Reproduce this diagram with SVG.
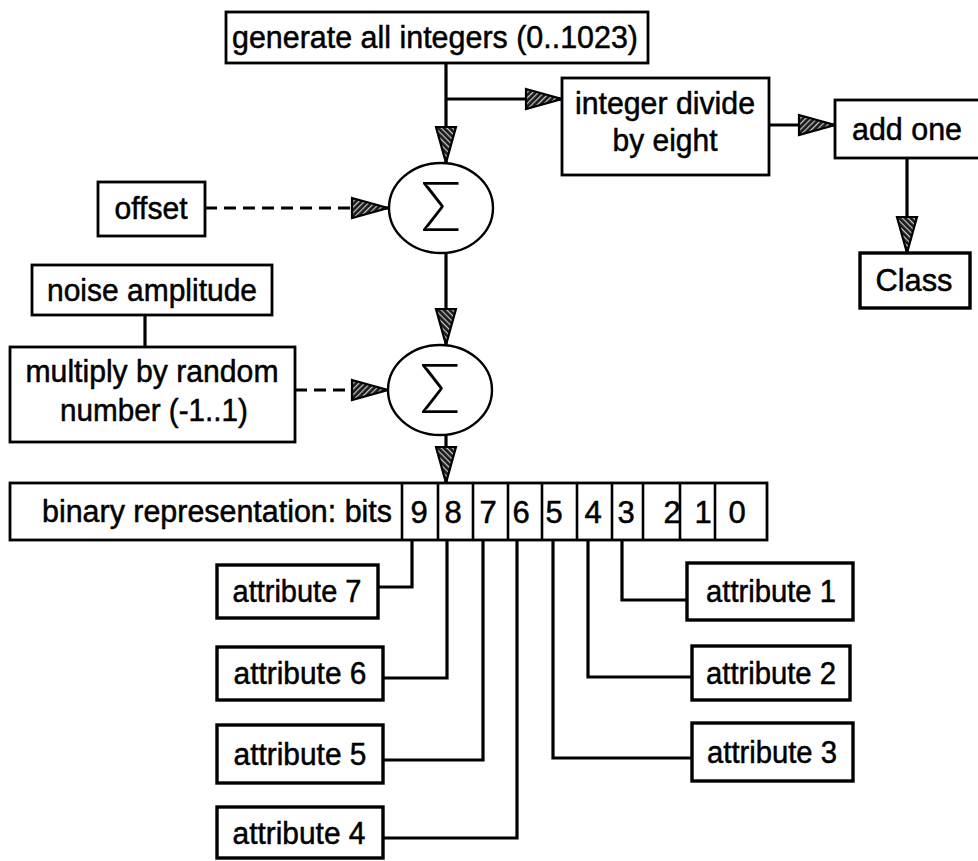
<svg xmlns="http://www.w3.org/2000/svg" width="978" height="861" viewBox="0 0 978 861">
  <style>
    .box { fill: #fff; stroke: #000; stroke-width: 2.8; }
    .thick { stroke-width: 3.4; }
    .sum { fill: #fff; stroke: #000; stroke-width: 2.4; }
    .lbl { font-family: "Liberation Sans", Arial, Helvetica, sans-serif; font-size: 31px; fill: #000; stroke: #000; stroke-width: 0.5; text-anchor: middle; }
    .sigma { font-family: Lato, "Liberation Sans", Arial, sans-serif; font-weight: 300; font-size: 68px; fill: #000; text-anchor: middle; }
    .wire { fill: none; stroke: #000; stroke-width: 3.2; }
    .cell { fill: none; stroke: #000; stroke-width: 2.6; }
    .dash { stroke-dasharray: 12 7; }
  </style>
  <defs>
    <pattern id="hatch" patternUnits="userSpaceOnUse" width="4" height="4" patternTransform="rotate(45)">
      <rect width="4" height="4" fill="#1a1a1a"/>
      <rect width="1.2" height="4" fill="#c8c8c8"/>
    </pattern>
    <marker id="arrow" markerUnits="userSpaceOnUse" markerWidth="42" markerHeight="24" refX="37" refY="11" orient="auto" overflow="visible">
      <path d="M1,1 L37,11 L1,21 Z" fill="url(#hatch)" stroke="#000" stroke-width="2.2" stroke-linejoin="miter"/>
    </marker>
  </defs>

  <rect width="978" height="861" fill="#fff"/>

  <!-- connectors -->
  <g id="connectors">
    <path class="wire" d="M446,63 V163" marker-end="url(#arrow)"/>
    <path class="wire" d="M446,99 H562" marker-end="url(#arrow)"/>
    <path class="wire" d="M769,125 H835" marker-end="url(#arrow)"/>
    <path class="wire" d="M907,158 V253" marker-end="url(#arrow)"/>
    <path class="wire dash" d="M205,208 H388" marker-end="url(#arrow)"/>
    <path class="wire" d="M446,253 V345" marker-end="url(#arrow)"/>
    <path class="wire dash" d="M295,390 H388" marker-end="url(#arrow)"/>
    <path class="wire" d="M446,435 V483" marker-end="url(#arrow)"/>
    <path class="wire" d="M145,315 V347"/>
    <!-- bit taps -->
    <path class="wire" d="M412,540 V587 H378"/>
    <path class="wire" d="M447,540 V678 H383"/>
    <path class="wire" d="M483,540 V760 H383"/>
    <path class="wire" d="M517,540 V838 H383"/>
    <path class="wire" d="M553,540 V758 H692"/>
    <path class="wire" d="M588,540 V677 H692"/>
    <path class="wire" d="M622,540 V600 H687"/>
  </g>

  <g id="generate">
    <rect class="box" x="226" y="12" width="422" height="51"/>
    <text class="lbl" x="435" y="48" textLength="406" lengthAdjust="spacingAndGlyphs">generate all integers (0..1023)</text>
  </g>

  <g id="divide">
    <rect class="box" x="562" y="78" width="207" height="97"/>
    <text class="lbl" x="665" y="114" textLength="180" lengthAdjust="spacingAndGlyphs">integer divide</text>
    <text class="lbl" x="665" y="151" textLength="105" lengthAdjust="spacingAndGlyphs">by eight</text>
  </g>

  <g id="add-one">
    <rect class="box" x="835" y="100" width="160" height="58"/>
    <text class="lbl" x="907" y="140" textLength="110" lengthAdjust="spacingAndGlyphs">add one</text>
  </g>

  <g id="class">
    <rect class="box thick" x="860" y="253" width="110" height="55"/>
    <text class="lbl" x="914" y="291" textLength="77" lengthAdjust="spacingAndGlyphs">Class</text>
  </g>

  <g id="offset">
    <rect class="box" x="98" y="182" width="107" height="54"/>
    <text class="lbl" x="151" y="219" textLength="73" lengthAdjust="spacingAndGlyphs">offset</text>
  </g>

  <g id="sum1">
    <ellipse class="sum" cx="441" cy="208" rx="52" ry="45"/>
    <text class="sigma" x="441" y="231">Σ</text>
  </g>

  <g id="noise">
    <rect class="box" x="32" y="265" width="240" height="50"/>
    <text class="lbl" x="152" y="301" textLength="210" lengthAdjust="spacingAndGlyphs">noise amplitude</text>
  </g>

  <g id="multiply">
    <rect class="box" x="10" y="347" width="285" height="95"/>
    <text class="lbl" x="152" y="382" textLength="253" lengthAdjust="spacingAndGlyphs">multiply by random</text>
    <text class="lbl" x="154" y="421" textLength="188" lengthAdjust="spacingAndGlyphs">number (-1..1)</text>
  </g>

  <g id="sum2">
    <ellipse class="sum" cx="440" cy="390" rx="52" ry="45"/>
    <text class="sigma" x="440" y="413">Σ</text>
  </g>

  <g id="bits">
    <rect class="box" x="10" y="483" width="757" height="57"/>
    <text class="lbl" x="42" y="522" style="text-anchor:start" textLength="350" lengthAdjust="spacingAndGlyphs">binary representation: bits</text>
    <text class="lbl" x="419" y="523">9</text>
    <text class="lbl" x="453" y="523">8</text>
    <text class="lbl" x="488" y="523">7</text>
    <text class="lbl" x="521" y="523">6</text>
    <text class="lbl" x="554" y="523">5</text>
    <text class="lbl" x="593" y="523">4</text>
    <text class="lbl" x="626" y="523">3</text>
    <text class="lbl" x="672" y="523">2</text>
    <text class="lbl" x="703" y="523">1</text>
    <text class="lbl" x="737" y="523">0</text>
    <path class="cell" d="M402,483 V540 M438,483 V540 M473,483 V540 M508,483 V540 M542,483 V540 M577,483 V540 M612,483 V540 M643,483 V540 M680,483 V540 M715,483 V540"/>
  </g>

  <g id="attribute-7">
    <rect class="box thick" x="217" y="565" width="161" height="53"/>
    <text class="lbl" x="297" y="602" textLength="129" lengthAdjust="spacingAndGlyphs">attribute 7</text>
  </g>
  <g id="attribute-6">
    <rect class="box thick" x="217" y="647" width="166" height="53"/>
    <text class="lbl" x="300" y="684" textLength="133" lengthAdjust="spacingAndGlyphs">attribute 6</text>
  </g>
  <g id="attribute-5">
    <rect class="box thick" x="217" y="725" width="166" height="58"/>
    <text class="lbl" x="300" y="765" textLength="133" lengthAdjust="spacingAndGlyphs">attribute 5</text>
  </g>
  <g id="attribute-4">
    <rect class="box thick" x="217" y="807" width="166" height="51"/>
    <text class="lbl" x="299" y="844" textLength="133" lengthAdjust="spacingAndGlyphs">attribute 4</text>
  </g>
  <g id="attribute-1">
    <rect class="box thick" x="687" y="563" width="166" height="57"/>
    <text class="lbl" x="771" y="602" textLength="130" lengthAdjust="spacingAndGlyphs">attribute 1</text>
  </g>
  <g id="attribute-2">
    <rect class="box thick" x="692" y="646" width="158" height="54"/>
    <text class="lbl" x="771" y="684" textLength="130" lengthAdjust="spacingAndGlyphs">attribute 2</text>
  </g>
  <g id="attribute-3">
    <rect class="box thick" x="692" y="723" width="161" height="58"/>
    <text class="lbl" x="772" y="763" textLength="130" lengthAdjust="spacingAndGlyphs">attribute 3</text>
  </g>
</svg>
